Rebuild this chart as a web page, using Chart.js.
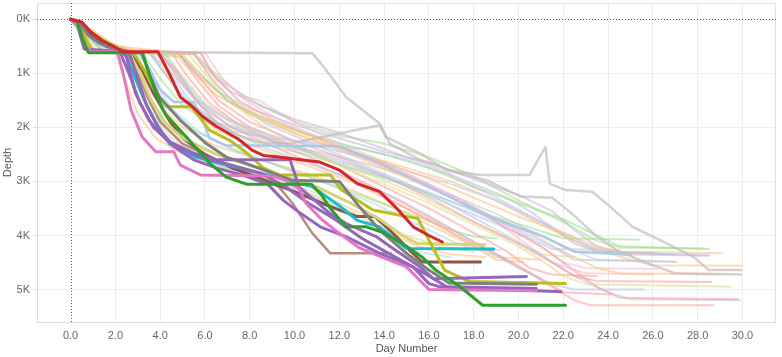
<!DOCTYPE html>
<html>
<head>
<meta charset="utf-8">
<script src="https://cdn.jsdelivr.net/npm/chart.js@4.4.0/dist/chart.umd.min.js"></script>
<style>
html,body{margin:0;padding:0;background:#fff;}
#c{display:block;}
</style>
</head>
<body>
<canvas id="c" width="782" height="357"></canvas>
<script>
// Axis ticks
const dayTicks = [0,2,4,6,8,10,12,14,16,18,20,22,24,26,28,30];
const depthTicks = [0,1,2,3,4,5]; // thousands of feet

// Highlighted wells: [day, depth (K)]
const redWell = [[0,0],[0.5,0.05],[0.9,0.23],[1.4,0.39],[2.0,0.52],[2.3,0.6],[3.9,0.6],[4.4,1.0],[4.9,1.44],[5.4,1.6],[5.9,1.8],[6.5,1.98],[7.5,2.22],[8.1,2.42],[8.6,2.52],[9.3,2.55],[11.1,2.64],[12.0,2.79],[12.8,3.04],[13.8,3.19],[14.5,3.47],[15.3,3.84],[16.0,4.0],[16.6,4.12]];
const greenWell = [[0,0],[0.3,0.05],[0.5,0.35],[0.8,0.62],[3.2,0.62],[3.5,1.0],[3.8,1.35],[4.2,1.74],[5.3,2.24],[6.2,2.66],[6.95,2.92],[7.85,3.05],[10.75,3.05],[11.2,3.25],[11.6,3.5],[12.3,3.84],[13.2,3.84],[14.0,3.95],[15.0,4.2],[15.7,4.4],[16.3,4.64],[17.4,4.95],[18.4,5.29],[22.1,5.29]];
const pinkWell = [[0,0],[0.3,0.1],[0.6,0.45],[0.9,0.6],[2.1,0.6],[2.4,1.1],[2.7,1.68],[3.2,2.18],[3.8,2.45],[4.6,2.45],[4.9,2.7],[5.8,2.88],[9.0,2.9],[9.6,2.98],[10.2,3.13],[10.5,3.4],[11.2,3.7],[12.0,3.96],[12.9,4.23],[14.2,4.45],[15.0,4.58],[16.0,5.0],[20.8,5.02]];
const grayWell = [[0,0],[0.4,0.05],[0.8,0.3],[1.3,0.45],[2.0,0.55],[2.5,0.6],[3.2,0.62],[3.5,1.0],[3.97,1.44],[4.9,1.87],[6.06,2.3],[6.95,2.55],[7.85,2.67],[9.9,2.98],[12.0,3.0],[12.9,3.47],[13.8,3.9],[15.0,4.33],[16.0,4.64],[16.9,4.88],[20.8,4.9]];
const purpleWellA = [[0,0],[0.3,0.1],[0.6,0.55],[2.3,0.6],[2.5,0.7],[2.9,1.37],[3.5,1.87],[4.3,2.24],[5.5,2.48],[6.5,2.6],[9.8,2.6],[10.2,3.1],[11.6,3.6],[12.3,3.78],[13.65,4.02],[14.25,4.2],[15.6,4.58],[16.2,4.8],[20.35,4.76]];
const purpleWellB = [[0,0],[0.3,0.1],[0.6,0.5],[0.9,0.6],[2.6,0.6],[3.0,1.1],[3.4,1.6],[3.9,2.0],[4.6,2.35],[5.5,2.6],[6.5,2.75],[7.8,2.9],[8.8,3.05],[9.5,3.35],[10.3,3.6],[11.2,3.85],[12.3,4.02],[13.8,4.33],[15.3,4.58],[16.0,4.89],[16.5,4.95],[21.9,5.04]];
const purpleWellC = [[0,0],[0.4,0.15],[0.7,0.55],[1.0,0.6],[2.2,0.6],[2.6,1.0],[3.1,1.55],[3.7,2.0],[4.5,2.3],[5.8,2.55],[7.2,2.7],[8.5,2.85],[9.6,3.1],[10.6,3.4],[11.8,3.7],[13.0,4.05],[14.5,4.4],[15.8,4.7],[16.8,4.95],[20.8,4.98]];
const oliveWell = [[0,0],[0.4,0.05],[0.7,0.4],[1.0,0.6],[2.8,0.6],[3.3,0.95],[3.8,1.35],[4.3,1.62],[5.4,1.62],[6.2,2.05],[7.1,2.24],[7.8,2.45],[8.6,2.75],[9.3,2.88],[11.6,2.88],[12.1,3.16],[13.5,3.53],[15.0,3.65],[15.5,3.68],[16.0,4.08],[16.7,4.64],[17.8,4.85],[22.1,4.89]];
const khakiWell = [[0,0],[0.5,0.2],[1.0,0.6],[2.6,0.6],[3.1,1.0],[3.6,1.5],[4.2,1.9],[5.0,2.2],[6.5,2.5],[8.0,2.7],[9.5,2.9],[11.0,3.1],[12.5,3.4],[13.8,3.7],[14.8,4.0],[15.5,4.15],[18.5,4.17]];
const cyanWell = [[0,0],[0.3,0.05],[0.6,0.5],[0.8,0.6],[2.4,0.6],[2.8,1.0],[3.3,1.5],[3.8,1.9],[4.4,2.3],[5.6,2.55],[6.5,2.65],[7.5,2.75],[8.5,2.85],[9.5,2.95],[10.8,3.1],[12.0,3.45],[12.8,3.72],[13.8,3.84],[15.0,4.24],[18.9,4.25]];
const brownWell = [[0,0],[0.5,0.1],[1.0,0.33],[1.6,0.5],[2.6,0.6],[3.2,0.94],[3.7,1.37],[4.4,1.87],[5.0,2.2],[6.0,2.5],[7.2,2.75],[8.5,2.95],[10.2,3.22],[11.5,3.45],[12.8,3.65],[13.6,3.65],[14.5,4.0],[15.2,4.3],[15.7,4.49],[18.3,4.49]];
const rosyWell = [[0,0],[0.5,0.1],[0.8,0.55],[1.0,0.6],[2.5,0.6],[3.0,1.0],[3.5,1.5],[4.0,1.9],[5.0,2.3],[6.5,2.6],[8.0,2.85],[9.3,3.1],[9.9,3.4],[10.8,3.96],[11.6,4.33],[14.3,4.33]];
const skyWell = [[0,0],[0.3,0.05],[0.5,0.3],[1.0,0.6],[3.0,0.6],[3.5,0.9],[4.0,1.3],[4.6,1.53],[5.5,1.53],[5.9,1.87],[6.2,2.2],[6.9,2.33],[12.0,2.35],[13.5,2.6],[15.0,2.9],[17.0,3.3],[19.0,3.7],[21.0,4.0],[22.5,4.3],[25.0,4.35]];

const boldWells = [redWell, greenWell, pinkWell, grayWell, purpleWellA, purpleWellB, purpleWellC, oliveWell, khakiWell, cyanWell, brownWell, rosyWell, skyWell];
const boldColors = ['#d62728','#2ca02c','#e377c2','#7f7f7f','#9467bd','#9467bd','#9467bd','#bcbd22','#d4d47a','#17becf','#8c564b','#b98b80','#aec7e8'];

// Background wells
const faintWells = [
 [[0,0],[1.2,0.3],[2.5,0.6],[5.0,0.7],[6.0,1.1],[7.0,1.5],[8.5,1.8],[10,2.05],[12,2.3],[14,2.5],[16,2.75],[18,3.1],[20,3.4],[22,3.7],[23.5,4.0],[24.5,4.2],[28.5,4.25]],
 [[0,0],[1,0.2],[2,0.5],[4.5,0.6],[5.5,1.0],[6.5,1.4],[8,1.75],[10,2.1],[12,2.4],[14,2.65],[16,2.95],[18,3.3],[20,3.65],[22,3.95],[23.5,4.2],[24.5,4.3],[29.05,4.33]],
 [[0,0],[0.8,0.2],[1.5,0.55],[3.5,0.6],[4.5,1.0],[5.5,1.45],[7,1.85],[9,2.15],[11,2.35],[13,2.55],[15,2.8],[17,3.05],[19,3.35],[21,3.75],[22.5,4.05],[23.5,4.3],[28.5,4.37]],
 [[0,0],[1,0.3],[2.2,0.6],[4.2,0.62],[5,1.1],[6,1.6],[7.5,2.0],[9.5,2.3],[12,2.6],[14,2.9],[16,3.2],[18,3.55],[20,3.9],[21.5,4.2],[22.5,4.45],[27.05,4.49]],
 [[0,0],[1.5,0.4],[3,0.6],[5.5,0.65],[6.5,1.2],[7.5,1.6],[9,1.9],[11,2.2],[13,2.5],[15,2.75],[17,3.0],[19,3.35],[21,3.8],[23,4.2],[25,4.45],[26,4.55],[30,4.56]],
 [[0,0],[1,0.25],[2.5,0.6],[5,0.65],[6,1.1],[7,1.5],[8.5,1.85],[10.5,2.2],[12.5,2.5],[14.5,2.85],[16.5,3.2],[18.5,3.6],[20.5,3.95],[22,4.3],[23.5,4.6],[24.5,4.7],[29.0,4.72]],
 [[0,0],[1,0.35],[2,0.6],[4.8,0.62],[5.6,1.0],[6.6,1.5],[8,1.9],[10,2.25],[12,2.55],[14,2.9],[16,3.3],[18,3.75],[20,4.15],[21.5,4.5],[22.5,4.75],[23.5,4.84],[28.6,4.86]],
 [[0,0],[1.2,0.4],[2.2,0.6],[5.2,0.62],[6,1.0],[7,1.5],[8.5,1.95],[10,2.3],[12,2.7],[14,3.05],[16,3.4],[18,3.8],[20,4.2],[21,4.45],[22,4.75],[23,4.9],[29.5,4.95]],
 [[0,0],[0.8,0.3],[1.8,0.6],[3.8,0.62],[4.6,1.1],[5.5,1.6],[6.8,2.0],[8.5,2.35],[10.5,2.65],[12.5,2.95],[14.5,3.3],[16.5,3.75],[18.5,4.25],[20,4.6],[21.5,4.9],[22.5,5.0],[25.6,5.0]],
 [[0,0],[1,0.3],[2.2,0.6],[4.5,0.62],[5.2,1.05],[6.2,1.55],[7.5,1.95],[9.5,2.35],[11.5,2.7],[13.5,3.1],[15.5,3.55],[17.5,4.0],[19.5,4.45],[21,4.8],[22,5.05],[24.15,5.09]],
 [[0,0],[1.5,0.4],[2.8,0.6],[5.8,0.62],[6.5,1.1],[7.5,1.5],[9,1.85],[11,2.2],[13,2.55],[15,2.9],[17,3.3],[19,3.75],[21,4.2],[22.5,4.65],[23.5,4.95],[24.5,5.15],[29.8,5.18]],
 [[0,0],[1,0.3],[2,0.6],[4,0.62],[4.8,1.1],[5.8,1.6],[7.2,2.0],[9,2.35],[11,2.7],[13,3.05],[15,3.5],[17,3.95],[19,4.35],[20.5,4.7],[21.5,4.95],[22.5,5.2],[23.2,5.29],[28.7,5.29]],
 [[0,0],[1.2,0.35],[2.5,0.6],[5.5,0.62],[6.3,1.1],[7.3,1.55],[8.8,1.95],[10.8,2.3],[12.8,2.65],[14.8,3.0],[16.8,3.4],[18.8,3.85],[20.8,4.3],[22.5,4.75],[24,5.05],[25,5.18],[29.9,5.2]],
 [[0,0],[0.8,0.25],[1.8,0.6],[3.2,0.62],[4,1.1],[5,1.6],[6.5,2.0],[8.5,2.3],[10.5,2.5],[12.5,2.75],[14.5,3.0],[16.5,3.3],[18.5,3.6],[20.5,3.85],[22,4.05],[25.4,4.08]],
 [[0,0],[1,0.3],[2,0.6],[3.5,0.62],[4.3,1.05],[5.2,1.5],[6.5,1.9],[8.5,2.2],[10.5,2.45],[12.5,2.7],[14.5,3.0],[16.5,3.35],[18.5,3.7],[20.5,4.05],[21.5,4.25],[24.5,4.27]],
 [[0,0],[1,0.3],[2,0.6],[5.5,0.65],[6.3,1.0],[7.2,1.35],[8.5,1.6],[10,1.85],[12,2.1],[14,2.4],[16,2.7],[18,3.05],[19.5,3.3],[20.5,3.55],[21.5,3.85],[22.5,4.15],[23.5,4.3],[26,4.32]],
 [[0,0],[1,0.3],[2,0.6],[3.6,0.62],[4.4,1.1],[5.2,1.6],[6.5,2.05],[8.5,2.4],[10.5,2.7],[12.5,3.0],[14.5,3.4],[16.5,3.8],[18,4.2],[19,4.45],[20.2,4.49]],
 [[0,0],[0.7,0.3],[1.5,0.6],[3,0.62],[3.7,1.1],[4.5,1.65],[5.8,2.1],[7.5,2.45],[9.5,2.75],[11.5,3.05],[13.5,3.4],[15.5,3.8],[17,4.1],[18,4.25],[19.2,4.27]],
 [[0,0],[1.3,0.4],[2.6,0.6],[6.0,0.62],[6.8,1.1],[7.8,1.5],[9.5,1.9],[11.5,2.25],[13.5,2.6],[15.5,2.95],[17.5,3.35],[19.5,3.8],[21,4.2],[22,4.5],[23,4.6],[26.2,4.62]],
 [[0,0],[1,0.3],[2,0.55],[5.8,0.62],[6.3,1.0],[6.65,1.13],[7.85,1.44],[8.4,1.5],[9.9,1.87],[11.5,2.2],[13.5,2.55],[15.5,2.95],[17.5,3.35],[19,3.75],[20.5,4.2],[21.5,4.5],[23,4.7],[26,4.72]],
 [[0,0],[1,0.3],[2,0.6],[4.2,0.62],[5,1.05],[6,1.55],[7.5,1.95],[9.5,2.3],[11.5,2.6],[13.5,2.9],[15.5,3.25],[17.5,3.65],[19.5,4.05],[21,4.35],[22.5,4.4]],
 [[0,0],[0.6,0.25],[1.4,0.6],[2.8,0.62],[3.4,1.05],[4.2,1.6],[5.5,2.05],[7.2,2.4],[9.2,2.7],[11.2,3.0],[13.2,3.3],[15.2,3.6],[17,3.9],[18,4.02],[19.0,4.05]],
 [[0,0],[1,0.3],[2.2,0.6],[4.8,0.62],[5.6,1.1],[6.6,1.6],[8,2.0],[10,2.35],[12,2.7],[14,3.1],[16,3.5],[18,3.95],[19.5,4.3],[20.5,4.6],[21.5,4.72],[23.5,4.75]],
 [[0,0],[1,0.3],[2,0.6],[3.5,0.62],[4.2,1.0],[5,1.45],[6,1.8],[7,2.05],[9,2.2],[11,2.3],[13,2.4],[15,2.6],[17,2.9],[19,3.3],[21,3.75],[22.5,4.1],[24,4.3],[27.0,4.35]],
 [[0,0],[1,0.3],[2.3,0.6],[4.8,0.62],[5.6,1.0],[6.6,1.35],[8,1.65],[10,1.95],[12,2.2],[14,2.45],[16,2.65],[18,2.95],[20,3.25],[21.5,3.55],[22.5,3.9],[23.5,4.2],[24.5,4.35],[28.5,4.37]],
 [[0,0],[1,0.3],[2,0.6],[4,0.62],[4.8,1.05],[5.8,1.55],[7,1.95],[9,2.25],[11,2.45],[13,2.65],[15,2.9],[17,3.25],[19,3.6],[20.5,3.9],[22,4.2],[23.5,4.45],[27,4.48]],
 [[0,0],[0.6,0.3],[1.2,0.6],[2.6,0.62],[3.2,1.05],[4.0,1.6],[5,2.0],[6.5,2.35],[8.5,2.6],[10.5,2.85],[12.5,3.15],[14.5,3.5],[16.5,3.9],[18,4.2],[19,4.4],[21,4.45]],
 [[0,0],[0.6,0.3],[1.1,0.6],[2.2,0.62],[2.8,1.1],[3.5,1.7],[4.5,2.2],[5.8,2.55],[7.5,2.8],[9.5,3.0],[11.5,3.3],[13.5,3.7],[15,4.0],[16.5,4.2],[18,4.3]],
 [[0,0],[0.5,0.3],[1,0.6],[2.4,0.62],[3,1.1],[3.8,1.75],[4.8,2.25],[6,2.6],[7.5,2.85],[9.5,3.05],[11.5,3.4],[13,3.75],[14.5,4.1],[15.5,4.3],[17,4.4]],
 [[0,0],[1,0.3],[2.5,0.6],[5.5,0.62],[6.3,0.95],[7.3,1.3],[8.5,1.6],[10,1.9],[12,2.15],[14,2.3],[16,2.55],[18,2.9],[20,3.35],[22,3.75],[23.5,4.1],[24.5,4.22],[28.3,4.24]],
 [[0,0],[0.5,0.3],[1.0,0.6],[2.0,0.62],[2.5,1.2],[3.0,1.75],[3.8,2.2],[5.0,2.5],[6.5,2.7],[8.5,2.9],[10.5,3.2],[12.5,3.55],[14,3.9],[15.5,4.2],[17,4.35],[18.5,4.4]]
];
const faintColors = ['#98df8a','#ffbb78','#aec7e8','#aec7e8','#ffbb78','#ffbb78','#ff9896','#dbdb8d','#aec7e8','#ff9896','#ff9896','#ff9896','#aec7e8','#98df8a','#aec7e8','#c5b0d5','#ffbb78','#9edae5','#f7b6d2','#f7b6d2','#dbdb8d','#98df8a','#ff9896','#aec7e8','#c5b0d5','#c7c7c7','#ffbb78','#dbdb8d','#9edae5','#98df8a','#ffbb78'];

// Two grey outlier wells
const outlierWell = [[0,0],[0.5,0.1],[1,0.4],[1.5,0.6],[10.8,0.63],[11.3,0.88],[12.3,1.44],[13.8,1.93],[14.1,2.18],[15.6,2.48],[16.8,2.79],[18.6,2.98],[20.1,3.28],[21.5,3.3],[22.4,3.6],[23.5,4.02],[24.5,4.3],[26,4.55],[27,4.7],[29.95,4.72]];
const spikeWell = [[0,0],[1,0.3],[2,0.6],[4,0.62],[4.8,1.0],[5.6,1.5],[6.5,1.9],[7.5,2.15],[8.5,2.28],[9.8,2.3],[13.8,1.96],[14.25,2.3],[15.6,2.6],[17,2.8],[18.3,2.88],[20.5,2.88],[21.2,2.36],[21.4,3.04],[22.1,3.16],[23.3,3.19],[24.1,3.47],[25.1,3.84],[26.3,4.08],[27.8,4.39],[28.5,4.64],[29.95,4.64]];

function hexA(h, a){
  const r=parseInt(h.slice(1,3),16), g=parseInt(h.slice(3,5),16), b=parseInt(h.slice(5,7),16);
  return `rgba(${r},${g},${b},${a})`;
}
const toPts = w => w.map(p => ({x:p[0], y:p[1]}));

const datasets = [];
boldWells.forEach((w,i) => datasets.push({
  data: toPts(w), borderColor: boldColors[i], borderWidth: (i>=11?2.5:3), order: 0
}));
faintWells.forEach((w,i) => datasets.push({
  data: toPts(w), borderColor: hexA(faintColors[i % faintColors.length], 0.55), borderWidth: 2, order: 2
}));
[outlierWell, spikeWell].forEach(w => datasets.push({
  data: toPts(w), borderColor: 'rgba(200,186,186,0.7)', borderWidth: 2.5, order: 1
}));
datasets.forEach(d => { d.showLine = true; d.pointRadius = 0; d.fill = false; d.tension = 0; d.borderJoinStyle = 'round'; d.borderCapStyle = 'round'; });

const framePlugin = {
  id: 'frame',
  beforeDatasetsDraw(chart){
    const {ctx, chartArea:a, scales:{x, y}} = chart;
    ctx.save();
    ctx.strokeStyle = '#e3e3e3'; ctx.lineWidth = 1;
    ctx.beginPath();
    ctx.moveTo(a.left, a.top+0.5); ctx.lineTo(a.right, a.top+0.5);
    ctx.moveTo(a.right-0.5, a.top); ctx.lineTo(a.right-0.5, a.bottom);
    ctx.stroke();
    ctx.strokeStyle = '#555'; ctx.setLineDash([1,2]);
    const x0 = Math.round(x.getPixelForValue(0))+0.5, y0 = Math.round(y.getPixelForValue(0))+0.5;
    ctx.beginPath();
    ctx.moveTo(x0, a.top); ctx.lineTo(x0, a.bottom);
    ctx.moveTo(a.left, y0); ctx.lineTo(a.right, y0);
    ctx.stroke();
    ctx.restore();
  }
};

const font = {family: '"Liberation Sans", Arial, sans-serif', size: 11};
new Chart(document.getElementById('c'), {
  type: 'scatter',
  data: {datasets},
  plugins: [framePlugin],
  options: {
    responsive: false, animation: false, devicePixelRatio: 1,
    layout: {padding: {top: 3, right: 6, left: 0, bottom: 0}},
    plugins: {legend: {display: false}, tooltip: {enabled: false}},
    scales: {
      x: {
        type: 'linear', min: -1.5, max: 31.5,
        afterBuildTicks: s => { s.ticks = dayTicks.map(v => ({value: v})); },
        afterFit: s => { s.height = 35; s.paddingLeft = 0; s.paddingRight = 0; },
        ticks: {callback: v => Number(v).toFixed(1), color: '#666', font, padding: 7, maxRotation: 0, autoSkip: false},
        grid: {color: c => (c.tick && c.tick.value === 0) ? 'rgba(0,0,0,0)' : '#ededed', drawTicks: false},
        border: {display: true, color: '#dcdcdc'},
        title: {display: true, text: 'Day Number', color: '#555', font, padding: {top: 0, bottom: 1}}
      },
      y: {
        type: 'linear', reverse: true, min: -0.3, max: 5.6,
        afterBuildTicks: s => { s.ticks = depthTicks.map(v => ({value: v})); },
        afterFit: s => { s.width = 37; s.paddingTop = 0; s.paddingBottom = 0; },
        ticks: {callback: v => v + 'K', color: '#666', font, padding: 3, autoSkip: false},
        grid: {color: c => (c.tick && c.tick.value === 0) ? 'rgba(0,0,0,0)' : '#ededed', tickLength: 4, tickColor: '#dcdcdc'},
        border: {display: true, color: '#dcdcdc'},
        title: {display: true, text: 'Depth', color: '#555', font, padding: {top: 1, bottom: 0}}
      }
    }
  }
});
</script>
</body>
</html>
